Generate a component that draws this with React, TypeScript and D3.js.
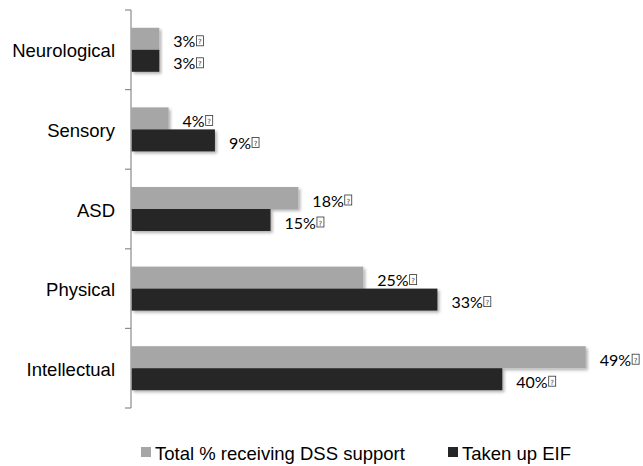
import React, { useEffect, useRef } from "react";
import * as d3 from "d3";

const categories = ["Neurological", "Sensory", "ASD", "Physical", "Intellectual"];
const seriesNames = ["Total % receiving DSS support", "Taken up EIF"];
const totalDSS = [3, 4, 18, 25, 49];
const takenEIF = [3, 9, 15, 33, 40];
const seriesColors = ["#a6a6a6", "#262626"];

const W = 643;
const H = 466;

export default function App() {
  const ref = useRef<SVGSVGElement | null>(null);

  useEffect(() => {
    const svg = d3.select(ref.current);
    svg.selectAll("*").remove();

    const defs = svg.append("defs");
    const f = defs
      .append("filter")
      .attr("id", "sh")
      .attr("x", "-5%")
      .attr("y", "-20%")
      .attr("width", "115%")
      .attr("height", "160%");
    f.append("feDropShadow")
      .attr("dx", 2)
      .attr("dy", 2)
      .attr("stdDeviation", 1.6)
      .attr("flood-color", "#000")
      .attr("flood-opacity", 0.3);

    const axisX = 131;
    const x = d3.scaleLinear().domain([0, 50]).range([axisX + 0.5, axisX + 0.5 + 463.5]);
    const y0 = d3.scaleBand<string>().domain(categories).range([10, 408]);
    const bw = y0.bandwidth();
    const barH = 22;
    const y1 = d3
      .scaleBand<string>()
      .domain(seriesNames)
      .range([bw / 2 - barH, bw / 2 + barH]);

    const data = categories.map((c, i) => ({ c, vals: [totalDSS[i], takenEIF[i]] }));

    // bars
    const g = svg.append("g");
    data.forEach((d) => {
      d.vals.forEach((v, si) => {
        const yy = (y0(d.c) as number) + (y1(seriesNames[si]) as number);
        g.append("rect")
          .attr("x", x(0))
          .attr("y", yy)
          .attr("width", x(v) - x(0))
          .attr("height", y1.bandwidth())
          .attr("fill", seriesColors[si])
          .attr("filter", "url(#sh)");
      });
    });

    // axis
    const ax = svg.append("g");
    ax.append("line")
      .attr("x1", axisX)
      .attr("x2", axisX)
      .attr("y1", 10)
      .attr("y2", 408)
      .attr("stroke", "#8c8c8c")
      .attr("stroke-width", 1.2);
    const bounds = categories.map((c) => y0(c) as number).concat([408]);
    bounds.forEach((b) => {
      ax.append("line")
        .attr("x1", axisX - 6)
        .attr("x2", axisX)
        .attr("y1", b)
        .attr("y2", b)
        .attr("stroke", "#8c8c8c")
        .attr("stroke-width", 1.2);
    });

    // category labels
    categories.forEach((c) => {
      svg
        .append("text")
        .attr("x", 115)
        .attr("y", (y0(c) as number) + bw / 2 + 7.5)
        .attr("text-anchor", "end")
        .attr("font-family", "'Liberation Sans', Arial, sans-serif")
        .attr("font-size", 18.5)
        .attr("fill", "#000")
        .text(c);
    });

    // value labels
    data.forEach((d) => {
      d.vals.forEach((v, si) => {
        const yy = (y0(d.c) as number) + (y1(seriesNames[si]) as number) + y1.bandwidth() / 2;
        const tx = x(v) + 14;
        const t = svg
          .append("text")
          .attr("x", tx)
          .attr("y", yy + 8.5)
          .attr("font-family", "Lato, 'Open Sans', sans-serif")
          .attr("font-size", 16)
          .attr("fill", "#000")
          .text(`${v}%`);
        const len = (t.node() as SVGTextElement).getComputedTextLength();
        const bx = tx + len + 0.5;
        svg
          .append("rect")
          .attr("x", bx + 0.5)
          .attr("y", yy - 3)
          .attr("width", 7)
          .attr("height", 10)
          .attr("fill", "none")
          .attr("stroke", "#333")
          .attr("stroke-width", 0.8);
        svg
          .append("text")
          .attr("x", bx + 4)
          .attr("y", yy + 5.5)
          .attr("text-anchor", "middle")
          .attr("font-family", "'DejaVu Sans', sans-serif")
          .attr("font-size", 7)
          .attr("fill", "#333")
          .text("?");
      });
    });

    // legend
    const legendX = [141, 448];
    seriesNames.forEach((s, i) => {
      svg
        .append("rect")
        .attr("x", legendX[i])
        .attr("y", 447)
        .attr("width", 10)
        .attr("height", 10)
        .attr("fill", seriesColors[i]);
      svg
        .append("text")
        .attr("x", legendX[i] + 14)
        .attr("y", 459.5)
        .attr("font-family", "'Liberation Sans', Arial, sans-serif")
        .attr("font-size", 18.5)
        .attr("fill", "#000")
        .text(s);
    });
  }, []);

  return (
    <svg
      ref={ref}
      width={W}
      height={H}
      style={{ position: "absolute", left: 0, top: 0, background: "#fff" }}
    />
  );
}
